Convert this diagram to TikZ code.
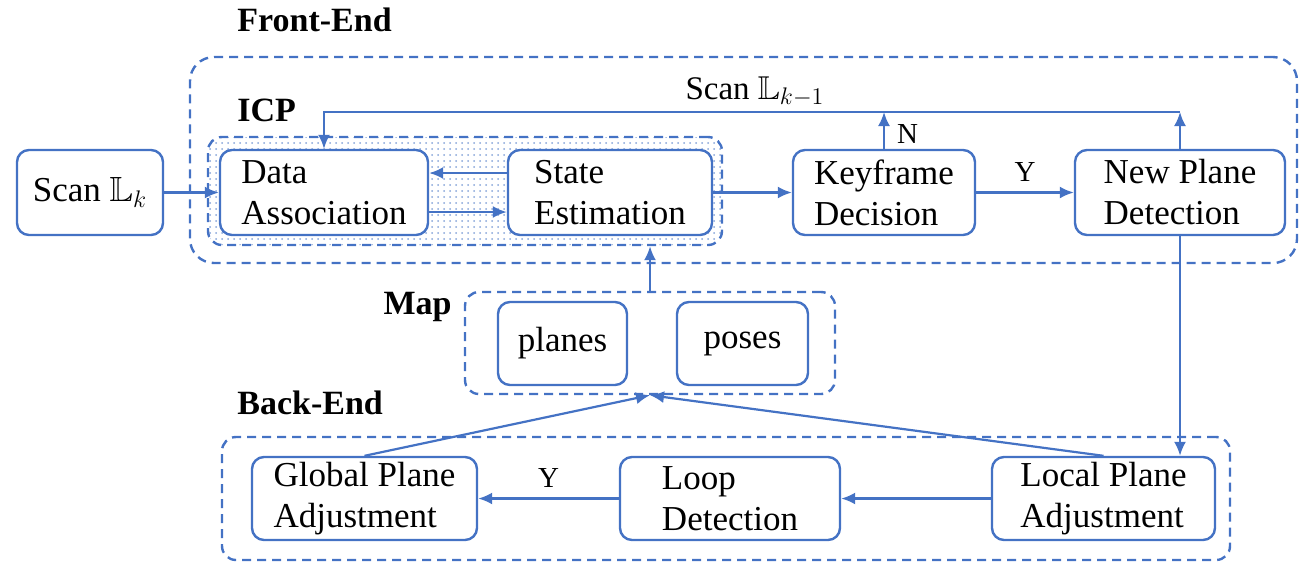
\documentclass[tikz,border=0pt]{standalone}
\usepackage{amsmath,amssymb}
\usepackage{fontspec}
\setmainfont{Liberation Serif}
\usetikzlibrary{arrows.meta,patterns}

\definecolor{lblue}{RGB}{68,114,196}

\begin{document}
\begin{tikzpicture}[x=0.5pt,y=-0.5pt]
\tikzset{
  boxnode/.style={draw=lblue,line width=1.2pt,rounded corners=6pt,fill=white,align=left,inner sep=0pt,
    minimum height=42.5pt,font=\fontsize{17.5}{20.5}\selectfont},
  groupbox/.style={draw=lblue,line width=1.2pt,dash pattern=on 4.5pt off 3pt,rounded corners=7pt,inner sep=0pt},
  grouptitle/.style={anchor=west,inner sep=0pt,font=\fontsize{17}{20}\selectfont\bfseries},
  flow/.style={draw=lblue,line width=1.1pt,-{Latex[length=7pt,width=6pt]}},
  edgelabel/.style={inner sep=2pt,font=\fontsize{14.5}{16}\selectfont}
}
\useasboundingbox (0,0) rectangle (1310,569);
% groups
\node[groupbox,rounded corners=12pt,minimum width=553.5pt,minimum height=103pt] (g_front) at (743.5,160) {};
\node[groupbox,pattern=dots,pattern color=lblue!65,minimum width=257pt,minimum height=54pt] (g_icp) at (465,191) {};
\node[groupbox,minimum width=185pt,minimum height=51pt] (g_map) at (650,343) {};
\node[groupbox,minimum width=504pt,minimum height=61.5pt] (g_back) at (726,498.5) {};
\node[grouptitle] (t_front) at (237,20) {Front-End};
\node[grouptitle] (t_icp) at (237,110) {ICP};
\node[grouptitle,anchor=east] (t_map) at (452,307) {Map};
\node[grouptitle] (t_back) at (237,403) {Back-End};
% boxes
\node[boxnode,minimum width=73pt] (n_scan) at (90,192.5) {Scan $\mathbb{L}_k$};
\node[boxnode,minimum width=104pt] (n_data) at (324,192.5) {Data\\Association};
\node[boxnode,minimum width=102pt] (n_state) at (610,192.5) {State\\Estimation};
\node[boxnode,minimum width=91pt] (n_keyframe) at (884,192.5) {Keyframe\\Decision};
\node[boxnode,minimum width=105pt] (n_newplane) at (1180,192.5) {New Plane\\Detection};
\node[boxnode,minimum width=64.5pt,minimum height=41.5pt] (n_planes) at (562.5,343.5) {planes};
\node[boxnode,minimum width=65.5pt,minimum height=41.5pt] (n_poses) at (742.5,343.5) {poses};
\node[boxnode,minimum width=112.5pt,minimum height=41.5pt] (n_global) at (364.5,498.5) {Global Plane\\Adjustment};
\node[boxnode,minimum width=110pt,minimum height=41.5pt] (n_loop) at (730,498.5) {Loop\\Detection};
\node[boxnode,minimum width=111.5pt,minimum height=41.5pt] (n_local) at (1103.5,498.5) {Local Plane\\Adjustment};
% connectors
\coordinate (c_top) at (1180,112);
\draw[flow] (n_scan.east) -- (n_data.west);
\draw[flow] ([yshift=9.75pt]n_state.west) -- ([yshift=9.75pt]n_data.east);
\draw[flow] ([yshift=-9.75pt]n_data.east) -- ([yshift=-9.75pt]n_state.west);
\draw[flow] (n_state.east) -- (n_keyframe.west);
\draw[flow] (n_keyframe.east) -- node[edgelabel,above=3pt] {Y} (n_newplane.west);
\draw[flow] (n_keyframe.north) -- node[edgelabel,right=4pt,pos=0.4] {N} (n_keyframe.north |- c_top);
\draw[flow] (n_newplane.north) -- (c_top);
\draw[flow] (c_top) -- (n_data.north |- c_top) -- (n_data.north);
\node[font=\fontsize{16.5}{19}\selectfont,inner sep=0pt] (t_prev) at (755,92) {Scan $\mathbb{L}_{k-1}$};
\draw[flow] (g_map.north) -- (g_map.north |- g_icp.south);
\draw[flow] (n_newplane.south) -- (n_newplane.south |- n_local.north);
\draw[flow] (n_local.west) -- (n_loop.east);
\draw[flow] (n_loop.west) -- node[edgelabel,above=3pt] {Y} (n_global.east);
\draw[flow] (n_global.north) -- (g_map.south);
\draw[flow] (n_local.north) -- (g_map.south);
\end{tikzpicture}
\end{document}
